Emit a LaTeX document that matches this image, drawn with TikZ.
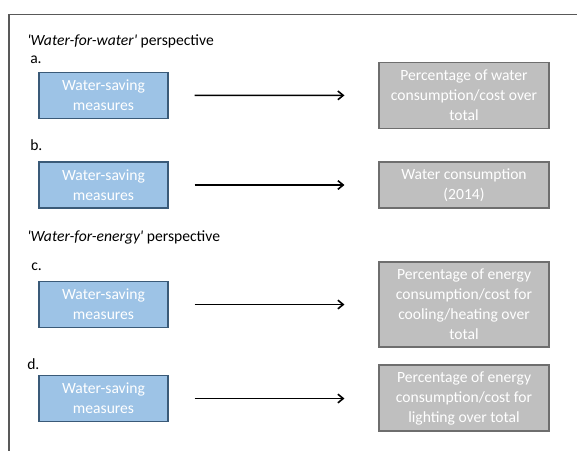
\documentclass[tikz,border=0pt]{standalone}
\usepackage{fontspec}
\setmainfont{Carlito}
\usetikzlibrary{arrows.meta}
\definecolor{measurefill}{HTML}{9DC3E6}
\definecolor{measureline}{HTML}{3A5A78}
\definecolor{outcomefill}{HTML}{BFBFBF}
\definecolor{outcomeline}{HTML}{6E6E6E}
\definecolor{framegray}{HTML}{595959}
\tikzset{
  measure/.style={draw=measureline, fill=measurefill, line width=0.8pt,
    minimum width=96.75pt, minimum height=34.5pt, inner sep=0pt,
    align=center, text=white, font=\fontsize{11.7pt}{15pt}\selectfont},
  outcome/.style={draw=outcomeline, fill=outcomefill, line width=0.8pt,
    minimum width=127.5pt, inner sep=0pt,
    align=center, text=white, font=\fontsize{11.7pt}{15pt}\selectfont},
  heading/.style={anchor=west, inner sep=0pt, font=\fontsize{11.7pt}{14pt}\selectfont},
  tag/.style={anchor=west, inner sep=0pt, font=\fontsize{11.7pt}{14pt}\selectfont},
  link/.style={-{Straight Barb[length=4pt,width=6.5pt,line width=1.2pt]}, line width=1.1pt,
    shorten <=19.5pt, shorten >=25.5pt}
}
\begin{document}
\begin{tikzpicture}[x=0.75pt, y=-0.75pt]
\useasboundingbox (0,0) rectangle (577,451);
% frame
\draw[framegray, line width=0.9pt] (577,14.5) -- (9,14.5) -- (9,451);

% water-for-water
\node[heading] (h1) at (27,41) {\textit{\textquotesingle Water-for-water\textquotesingle}\ perspective};
\node[tag] (la) at (30,60) {a.};
\node[measure] (ma) at (103.5,95.5) {Water-saving\\measures};
\node[outcome, minimum height=49.5pt] (oa) at (464,95.3) {Percentage of water\\consumption/cost over\\total};
\draw[link] (ma) -- (oa);

\node[tag] (lb) at (30,145) {b.};
\node[measure] (mb) at (103.5,185) {Water-saving\\measures};
\node[outcome, minimum height=34.5pt] (ob) at (464,185) {Water consumption\\(2014)};
\draw[link] (mb) -- (ob);

% water-for-energy
\node[heading] (h2) at (27,237.5) {\textit{\textquotesingle Water-for-energy\textquotesingle}\ perspective};
\node[tag] (lc) at (31,267) {c.};
\node[measure] (mc) at (103.5,304.5) {Water-saving\\measures};
\node[outcome, minimum height=63.75pt] (oc) at (464,304.5) {Percentage of energy\\consumption/cost for\\cooling/heating over\\total};
\draw[link] (mc) -- (mc -| oc.west);

\node[tag] (ld) at (27,364) {d.};
\node[measure] (md) at (103.5,398.5) {Water-saving\\measures};
\node[outcome, minimum height=49.5pt] (od) at (464,398) {Percentage of energy\\consumption/cost for\\lighting over total};
\draw[link] (md) -- (md -| od.west);
\end{tikzpicture}
\end{document}
